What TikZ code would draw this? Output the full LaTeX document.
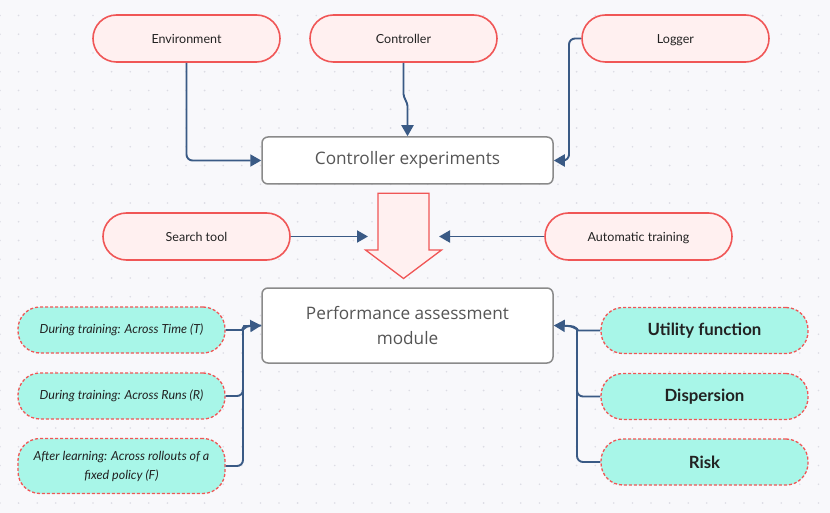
\documentclass[tikz,border=0pt]{standalone}
\usepackage{fontspec}
\setmainfont{Lato}
\newfontfamily\boxfont{Open Sans}
\usetikzlibrary{arrows.meta,positioning}
\definecolor{bgc}{HTML}{F8F8FB}
\definecolor{dotc}{HTML}{DCDCE4}
\definecolor{pinkfill}{HTML}{FFF0F0}
\definecolor{redline}{HTML}{F05656}
\definecolor{tealfill}{HTML}{A8F6E8}
\definecolor{conn}{HTML}{3A5A85}
\definecolor{grayline}{HTML}{8A8A8A}
\definecolor{txt}{HTML}{222222}
\definecolor{graytxt}{HTML}{555555}
\tikzset{
  pinkbox/.style={draw=redline, fill=pinkfill, line width=1.6pt, rounded corners=23.5pt,
    minimum width=187pt, minimum height=47pt, inner sep=0pt, text=txt, font=\fontsize{12.5}{14}\selectfont,
    text depth=0.8pt, text height=11.4pt},
  tealbox/.style={draw=redline, fill=tealfill, line width=1.3pt, dashed, dash pattern=on 3pt off 2pt,
    rounded corners=22pt, minimum width=207pt, minimum height=46pt, inner sep=0pt, text=txt, align=center},
  graybox/.style={draw=grayline, fill=white, line width=1.5pt, rounded corners=6pt,
    minimum width=291pt, inner sep=0pt, text=graytxt, align=center, font=\boxfont\fontsize{17.2}{25}\selectfont},
  conn/.style={draw=conn, line width=1.9pt, rounded corners=6pt, -{Triangle[length=11pt,width=12pt]}},
  connplain/.style={draw=conn, line width=1.9pt, rounded corners=6pt},
  lefttxt/.style={font=\itshape\fontsize{12.5}{19}\selectfont},
  righttxt/.style={font=\bfseries\fontsize{16.8}{19}\selectfont},
}
\begin{document}
\begin{tikzpicture}[x=1pt,y=-1pt]
\fill[bgc] (0,0) rectangle (830,513);
\useasboundingbox (0,0) rectangle (830,513);
\foreach \i in {0,...,44}{
  \foreach \j in {0,...,27}{
    \fill[dotc] (\i*18.6, 15.5+\j*18.75) circle (0.9pt);
  }
}
% top nodes
\node[pinkbox] (env) at (186.5,38.5) {Environment};
\node[pinkbox] (ctrl) at (403.5,38.5) {Controller};
\node[pinkbox] (log) at (675.5,38.5) {Logger};
\node[graybox, minimum height=47pt] (ce) at (407.5,160.5) {Controller experiments};
\node[pinkbox] (search) at (196.5,236.5) {Search tool};
\node[pinkbox] (auto) at (638.5,236.5) {Automatic training};
\node[graybox, minimum height=75pt] (pam) at (407.5,325.5) {Performance assessment\\module};
% big arrow
\draw[redline, fill=pinkfill, line width=1.3pt, line join=miter]
  (378,193.3) -- (429,193.3) -- (429,250) -- (441.5,250) -- (403.5,278.5) -- (365.5,250) -- (378,250) -- cycle;
\coordinate (arrL) at (368,236.5);
\coordinate (arrR) at (439,236.5);
% left teal
\node[tealbox, lefttxt] (t) at (121.5,330) {During training: Across Time (T)};
\node[tealbox, lefttxt] (r) at (121.5,396) {During training: Across Runs (R)};
\node[tealbox, lefttxt, minimum height=55pt] (f) at (121.5,466) {After learning: Across rollouts of a\\fixed policy (F)};
% right teal
\node[tealbox, righttxt] (u) at (704.5,330.5) {Utility function};
\node[tealbox, righttxt] (d) at (704.5,396.5) {Dispersion};
\node[tealbox, righttxt] (k) at (704.5,462) {Risk};
% connectors top
\draw[conn] (env.south) |- (ce.west);
\draw[conn] (ctrl.south) -- (403.5,88) to[out=-90,in=90] (407.5,112) -- (ce.north);
\draw[conn] (log.west) -| (569,150) |- (ce.east);
\draw[conn] (search.east) -- (arrL);
\draw[conn] (auto.west) -- (arrR);
% left connectors
\coordinate (pamL) at (pam.west);
\draw[connplain] (t.east) -- (236,330) to[out=0,in=180] (250,326) -- (pamL);
\draw[connplain] (r.east) -| (243,340);
\draw[connplain] (f.east) -| (243,335) to[out=90,in=180] (250,326);
\draw[conn] (250,326) -- (pamL);
% right connectors
\coordinate (pamR) at (pam.east);
\draw[connplain] (u.west) -- (584,330.5) to[out=180,in=0] (570,326);
\draw[connplain] (d.west) -| (577,338);
\draw[connplain] (k.west) -| (577,335) to[out=90,in=0] (568,326);
\draw[conn] (570,326) -- (pamR);
\end{tikzpicture}
\end{document}
